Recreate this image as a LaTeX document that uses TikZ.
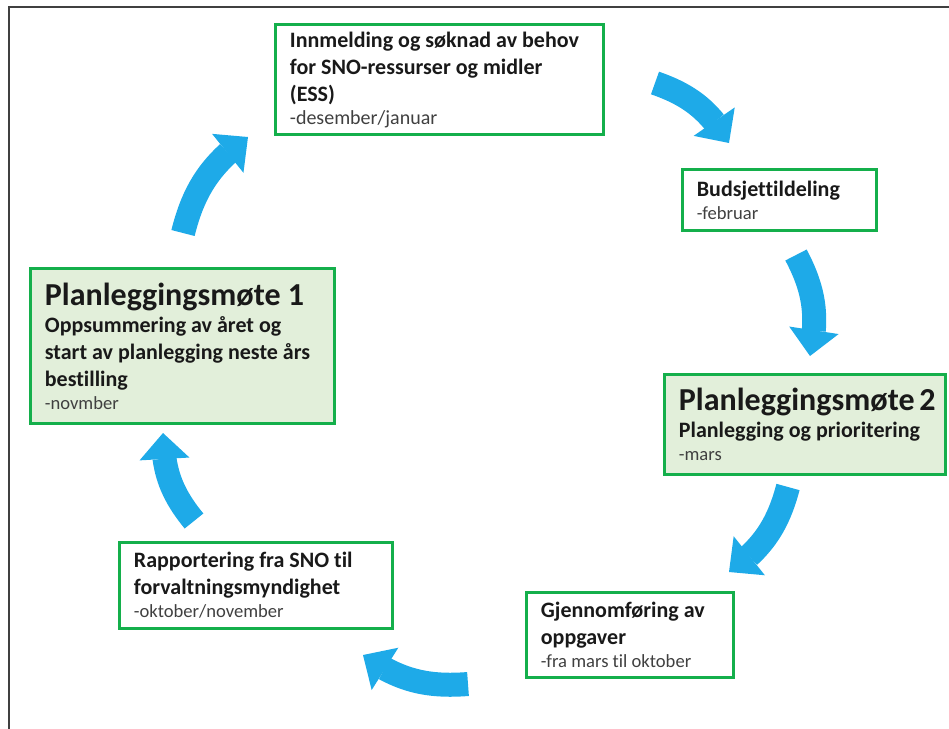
\documentclass[tikz,border=0pt]{standalone}
\usepackage{fontspec}
\setmainfont{Carlito}[Ligatures=NoCommon]
\usetikzlibrary{arrows.meta,bending}
\definecolor{boxgreen}{RGB}{20,175,75}
\definecolor{boxfill}{RGB}{226,239,218}
\definecolor{flowblue}{RGB}{30,170,232}
\definecolor{dategray}{RGB}{64,64,64}
\setlength{\parindent}{0pt}
\newcommand\mote[1]{{\fontsize{16}{19}\selectfont#1\par}}
\newcommand\mnd[2][9.3]{{\fontsize{#1}{11.5}\selectfont\mdseries\color{dategray}#2\par}}

\begin{document}
\begin{tikzpicture}[x=0.5pt, y=-0.5pt,
	stage/.style={draw=boxgreen, line width=1.5pt, anchor=north west, align=flush left,
		inner xsep=7.2pt, inner ysep=3.6pt, text=black!90,
		font=\fontsize{11}{13.5}\selectfont\bfseries},
	meeting/.style={stage, fill=boxfill},
	flow/.style={draw=flowblue, line width=12pt,
		-{Triangle[length=13pt, width=25pt, line width=0pt]}}]
		\useasboundingbox (0,0) rectangle (949,729);
		\draw[line width=1pt, black!75] (9,729) -- (9,7) -- (949,7);
	
		\node[stage, text width=149.6pt, minimum height=55pt] (innmelding) at (274,23)
			{Innmelding og søknad av behov\\ for SNO-ressurser og midler\\ (ESS)\\ \mnd[10]{-desember/januar}};
		\node[stage, text width=82.6pt, minimum height=30.5pt] (budsjett) at (681,168)
			{Budsjettildeling\\ \mnd{-februar}};
		\node[meeting, text width=126.1pt, minimum height=50pt] (plan2) at (663,373)
			{\mote{Planleggingsmøte~2}Planlegging og prioritering\\ \mnd{-mars}};
		\node[stage, text width=89.1pt, minimum height=42.5pt] (gjennom) at (525,591)
			{Gjennomføring av\\ oppgaver\\ \mnd{-fra mars til oktober}};
		\node[stage, text width=122.1pt, minimum height=43pt] (rapport) at (118,541)
			{Rapportering fra SNO til\\ forvaltningsmyndighet\\ \mnd{-oktober/november}};
		\node[meeting, text width=137.6pt, minimum height=77.5pt] (plan1) at (29,267)
			{\mote{Planleggingsmøte~1}Oppsummering av året og\\ start av planlegging neste års\\ bestilling\\ \mnd{-novmber}};
	
		\coordinate (s1) at (183,233); \coordinate (t1) at (248,137);
		\coordinate (s2) at (655,83);  \coordinate (t2) at (729,143);
		\coordinate (s3) at (796,255); \coordinate (t3) at (810,356);
		\coordinate (s4) at (788,487); \coordinate (t4) at (729,572);
		\coordinate (s5) at (468,684); \coordinate (t5) at (363,655);
		\coordinate (s6) at (194,521); \coordinate (t6) at (163,433);
	
		\foreach \i in {1,...,6} {
			\draw[flow] (s\i) to[bend left=20] (t\i);
		}
	\end{tikzpicture}
\end{document}
